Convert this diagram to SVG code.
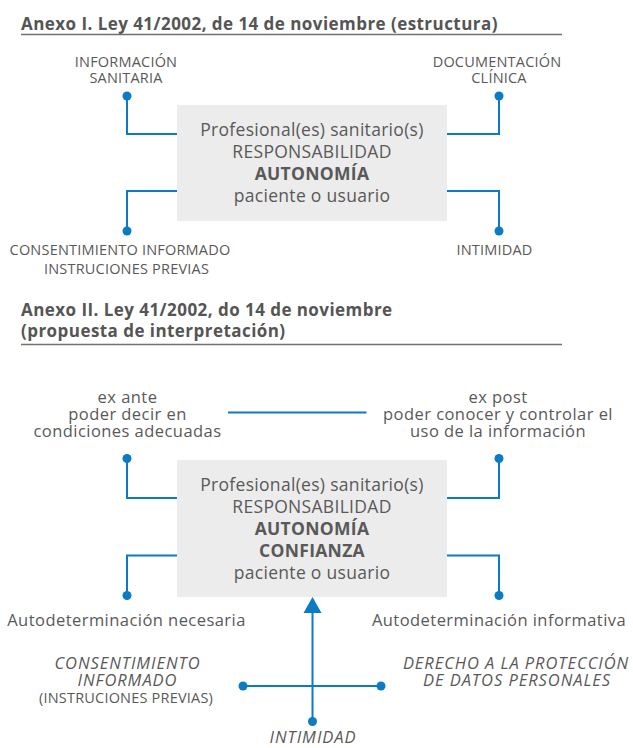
<svg xmlns="http://www.w3.org/2000/svg" width="633" height="748" viewBox="0 0 633 748">
<style>
  text { font-family: "Open Sans", "Liberation Sans", sans-serif; fill: #595959; }
  .title { font-weight: bold; font-size: 17px; letter-spacing: 0.45px; fill: #555555; }
  .rule { stroke: #707070; stroke-width: 1.5; fill: none; }
  .cap { font-size: 14.5px; letter-spacing: 0.2px; text-anchor: middle; }
  .box { fill: #ececec; }
  .bt { font-size: 17.5px; letter-spacing: 0.3px; text-anchor: middle; }
  .b { font-weight: bold; }
  .lbl { font-size: 16.5px; letter-spacing: 0.45px; text-anchor: middle; }
  .it { font-size: 16.5px; letter-spacing: 0.95px; font-style: italic; text-anchor: middle; }
  .con { stroke: #0b7bc4; stroke-width: 2; fill: none; }
  .dot { fill: #0b7bc4; }
</style>

<!-- Section I -->
<g id="title1">
  <text class="title" x="21" y="30">Anexo I. Ley 41/2002, de 14 de noviembre (estructura)</text>
  <line class="rule" x1="21" y1="34.5" x2="562" y2="34.5"/>
</g>
<g id="info">
  <text class="cap" x="126" y="67">INFORMACIÓN</text>
  <text class="cap" x="126" y="83">SANITARIA</text>
</g>
<g id="doc">
  <text class="cap" x="497" y="67">DOCUMENTACIÓN</text>
  <text class="cap" x="499" y="83">CLÍNICA</text>
</g>
<g id="box1">
  <rect class="box" x="177" y="105" width="270" height="116"/>
  <text class="bt" x="312" y="136">Profesional(es) sanitario(s)</text>
  <text class="bt" x="312" y="158">RESPONSABILIDAD</text>
  <text class="bt b" x="312" y="180">AUTONOMÍA</text>
  <text class="bt" x="312" y="202">paciente o usuario</text>
</g>
<g id="consent1">
  <text class="cap" x="120" y="255">CONSENTIMIENTO INFORMADO</text>
  <text class="cap" x="126.5" y="274">INSTRUCIONES PREVIAS</text>
</g>
<g id="intim1">
  <text class="cap" x="494.5" y="255">INTIMIDAD</text>
</g>
<g id="connectors1">
  <path class="con" d="M127,96 V134 H177"/>
  <path class="con" d="M499,96 V134 H447"/>
  <path class="con" d="M177,191 H127 V231"/>
  <path class="con" d="M447,191 H499 V231"/>
  <circle class="dot" cx="127" cy="96" r="4.5"/>
  <circle class="dot" cx="499" cy="96" r="4.5"/>
  <circle class="dot" cx="127" cy="231" r="4.5"/>
  <circle class="dot" cx="499" cy="231" r="4.5"/>
</g>

<!-- Section II -->
<g id="title2">
  <text class="title" x="21" y="316">Anexo II. Ley 41/2002, do 14 de noviembre</text>
  <text class="title" x="21" y="337">(propuesta de interpretación)</text>
  <line class="rule" x1="21" y1="344.5" x2="562" y2="344.5"/>
</g>
<g id="exante">
  <text class="lbl" x="127.5" y="403">ex ante</text>
  <text class="lbl" x="127.5" y="420">poder decir en</text>
  <text class="lbl" x="127.5" y="437">condiciones adecuadas</text>
</g>
<g id="expost">
  <text class="lbl" x="498" y="403">ex post</text>
  <text class="lbl" x="498" y="420">poder conocer y controlar el</text>
  <text class="lbl" x="498" y="437">uso de la información</text>
</g>
<g id="box2">
  <rect class="box" x="177" y="460" width="270" height="137"/>
  <text class="bt" x="312" y="491">Profesional(es) sanitario(s)</text>
  <text class="bt" x="312" y="513">RESPONSABILIDAD</text>
  <text class="bt b" x="312" y="534.5">AUTONOMÍA</text>
  <text class="bt b" x="312" y="556.5">CONFIANZA</text>
  <text class="bt" x="312" y="578.5">paciente o usuario</text>
</g>
<g id="autonec">
  <text class="lbl" x="126.5" y="626">Autodeterminación necesaria</text>
</g>
<g id="autoinf">
  <text class="lbl" x="499" y="626">Autodeterminación informativa</text>
</g>
<g id="consent2">
  <text class="it" x="127.5" y="669">CONSENTIMIENTO</text>
  <text class="it" x="127.5" y="686">INFORMADO</text>
  <text class="cap" x="126" y="703">(INSTRUCIONES PREVIAS)</text>
</g>
<g id="derecho">
  <text class="it" x="516" y="669">DERECHO A LA PROTECCIÓN</text>
  <text class="it" x="517" y="686">DE DATOS PERSONALES</text>
</g>
<g id="intim2">
  <text class="it" x="313" y="743">INTIMIDAD</text>
</g>
<g id="connectors2">
  <line class="con" x1="228" y1="412.5" x2="366.5" y2="412.5"/>
  <path class="con" d="M127,458.5 V498 H177"/>
  <path class="con" d="M499,458.5 V498 H447"/>
  <path class="con" d="M177,555.5 H127 V595.5"/>
  <path class="con" d="M447,555.5 H499 V595.5"/>
  <circle class="dot" cx="127" cy="458.5" r="4.5"/>
  <circle class="dot" cx="499" cy="458.5" r="4.5"/>
  <circle class="dot" cx="127" cy="595.5" r="4.5"/>
  <circle class="dot" cx="499" cy="595.5" r="4.5"/>
  <line class="con" x1="312.5" y1="612" x2="312.5" y2="721.5"/>
  <polygon class="dot" points="312.5,597 303.5,613 321.5,613"/>
  <line class="con" x1="243" y1="686" x2="381" y2="686"/>
  <circle class="dot" cx="243" cy="686" r="4.5"/>
  <circle class="dot" cx="381" cy="686" r="4.5"/>
  <circle class="dot" cx="312.5" cy="721.5" r="4.5"/>
</g>
</svg>
